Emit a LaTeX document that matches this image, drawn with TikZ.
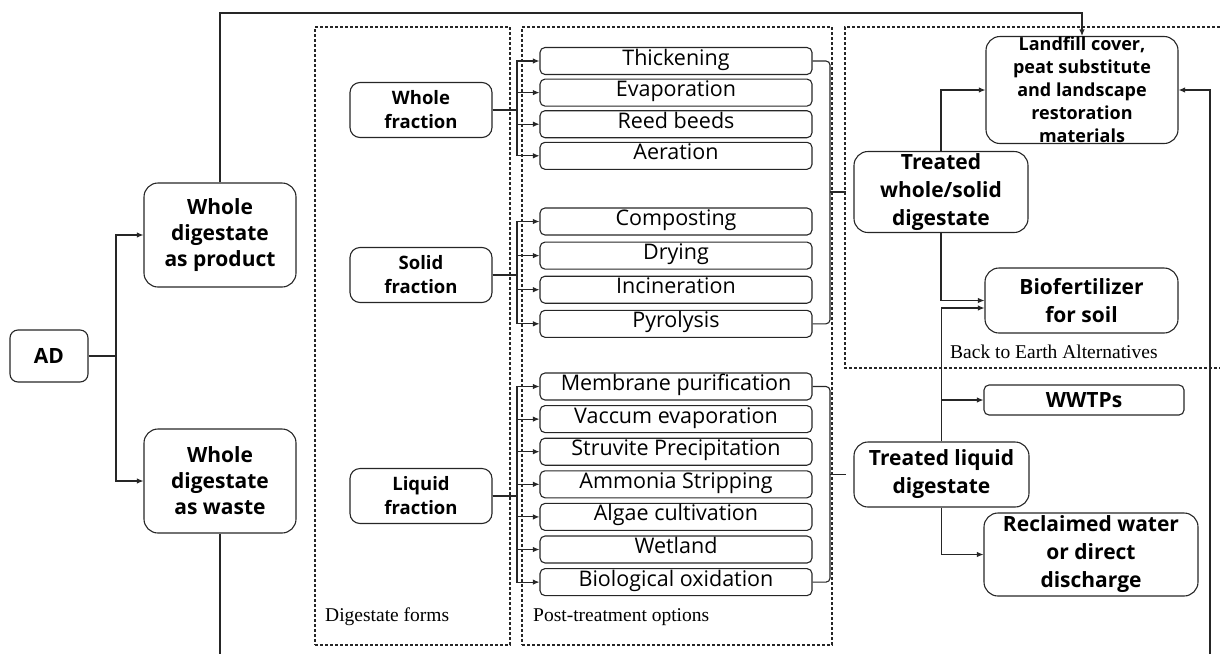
\documentclass[tikz,border=0pt]{standalone}
\usepackage{fontspec}
\setmainfont{Liberation Serif}
\setsansfont{Open Sans}
\usetikzlibrary{calc, positioning, fit, arrows.meta}

\begin{document}
\begin{tikzpicture}[x=1pt, y=-1pt,
    box/.style={draw=black!85, line width=1.1pt, rounded corners=14pt, align=center, inner sep=0pt, font=\sffamily\bfseries\fontsize{21}{26}\selectfont},
    fraction/.style={box, rounded corners=10pt, minimum width=142pt, minimum height=55pt, font=\sffamily\bfseries\fontsize{18.5}{24}\selectfont},
    option/.style={draw=black!85, line width=1.1pt, rounded corners=5pt, minimum width=272pt, minimum height=27pt, inner sep=0pt, text height=0.92em, text depth=0.12em, font=\sffamily\fontsize{21.5}{24}\selectfont},
    outcome/.style={box, font=\sffamily\bfseries\fontsize{21}{28}\selectfont},
    region/.style={draw=black!85, line width=1.3pt, dash pattern=on 3pt off 2pt, inner sep=0pt},
    caption/.style={anchor=west, inner sep=0pt, font=\fontsize{19.5}{22}\selectfont},
    link/.style={draw=black!85, line width=1.1pt},
    arrow/.style={link, -{Latex[length=6.5pt, width=5.5pt]}},
    node distance=4pt]
    \useasboundingbox (0,0) rectangle (1220,654);
    % regions
    \node (forms region) [region, fit={(315,27) (510,645)}] {};
    \node (options region) [region, fit={(522,27) (832,645)}] {};
    \draw[region] (1220,27) -| (845,368) -- (1220,368);
    \node (forms label) [caption] at (325,617) {Digestate forms};
    \node (options label) [caption] at (533,617) {Post-treatment options};
    \node (earth label) [caption] at (950,352) {Back to Earth Alternatives};
    % digestate
    \node (ad) [box, rounded corners=8pt, minimum width=78pt, minimum height=52pt] at (49,356) {AD};
    \node (product) [box, minimum width=152pt, minimum height=104pt] at (220,235) {Whole\\digestate\\as product};
    \node (waste) [box, minimum width=152pt, minimum height=104pt] at (220,481) {Whole\\digestate\\as waste};
    \node (whole) [fraction] at (421,110) {Whole\\fraction};
    \node (solid) [fraction] at (421,275) {Solid\\fraction};
    \node (liquid) [fraction] at (421,496) {Liquid\\fraction};
    % post-treatment
    \node (thick) [option] at (676,61) {Thickening};
    \node (evap) [option, below=3.5pt of thick] {Evaporation};
    \node (reed) [option, below=3.5pt of evap] {Reed beeds};
    \node (aer) [option, below=3.5pt of reed] {Aeration};
    \node (comp) [option] at (676,221.5) {Composting};
    \node (dry) [option, below=6pt of comp] {Drying};
    \node (incin) [option, below=6pt of dry] {Incineration};
    \node (pyro) [option, below=6pt of incin] {Pyrolysis};
    \node (memb) [option] at (676,386.5) {Membrane purification};
    \node (vac) [option, below=4.5pt of memb] {Vaccum evaporation};
    \node (struv) [option, below=4.5pt of vac] {Struvite Precipitation};
    \node (ammon) [option, below=4.5pt of struv] {Ammonia Stripping};
    \node (algae) [option, below=4.5pt of ammon] {Algae cultivation};
    \node (wetl) [option, below=4.5pt of algae] {Wetland};
    \node (bio) [option, below=4.5pt of wetl] {Biological oxidation};
    % end uses
    \node (treated solid) [outcome, minimum width=174pt, minimum height=81pt] at (941,192) {Treated\\whole/solid\\digestate};
    \node (treated liquid) [outcome, minimum width=175pt, minimum height=65pt] at (941.5,474.5) {Treated liquid\\digestate};
    \node (landfill) [outcome, minimum width=192pt, minimum height=107pt, font=\sffamily\bfseries\fontsize{18}{23}\selectfont] at (1082,90) {Landfill cover,\\peat substitute\\and landscape\\restoration\\materials};
    \node (biofert) [outcome, minimum width=193pt, minimum height=65pt] at (1081.5,300.5) {Biofertilizer\\for soil};
    \node (wwtp) [outcome, rounded corners=5pt, minimum width=200pt, minimum height=30pt] at (1084,400) {WWTPs};
    \node (reclaimed) [outcome, minimum width=214pt, minimum height=83pt] at (1091,554.5) {Reclaimed water\\or direct\\discharge};
    % connectors
    \coordinate (split) at (116,356);
    \draw[link] (ad.east) -- (split);
    \draw[arrow] (split) |- (product.west);
    \draw[arrow] (split) |- (waste.west);
    \coordinate (top rail) at (0,13);
    \draw[arrow] (product.north) -- (product.north |- top rail) -| (landfill.north);
    \coordinate (waste end) at (220,654);
    \draw[link] (waste.south) -- (waste end);
    \coordinate (return start) at (1210,654);
    \draw[arrow] (return start) |- (landfill.east);
    \coordinate (bus in) at (517,0);
    \foreach \m in {thick,evap,reed,aer}
        \draw[arrow] (whole.east) -- (whole.east -| bus in) |- (\m.west);
    \foreach \m in {comp,dry,incin,pyro}
        \draw[arrow] (solid.east) -- (solid.east -| bus in) |- (\m.west);
    \foreach \m in {memb,vac,struv,ammon,algae,wetl,bio}
        \draw[arrow] (liquid.east) -- (liquid.east -| bus in) |- (\m.west);
    % braces
    \coordinate (bus out) at (830,0);
    \draw[link, rounded corners=4pt] (thick.east) -| (bus out |- pyro.east) -- (pyro.east);
    \draw[link] (bus out |- treated solid.west) -- ([xshift=-7pt]treated solid.west);
    \draw[link, rounded corners=4pt] (memb.east) -| (bus out |- bio.east) -- (bio.east);
    \draw[link] (bus out |- treated liquid.west) -- ([xshift=-7pt]treated liquid.west);
    \draw[arrow] (treated solid.north) |- (landfill.west);
    \draw[arrow] (treated solid.south) |- (biofert.west);
    \draw[arrow] (treated liquid.north) |- ([yshift=-7.5pt]biofert.west);
    \draw[arrow] (treated liquid.north) |- (wwtp.west);
    \draw[arrow] (treated liquid.south) |- (reclaimed.west);
\end{tikzpicture}
\end{document}
